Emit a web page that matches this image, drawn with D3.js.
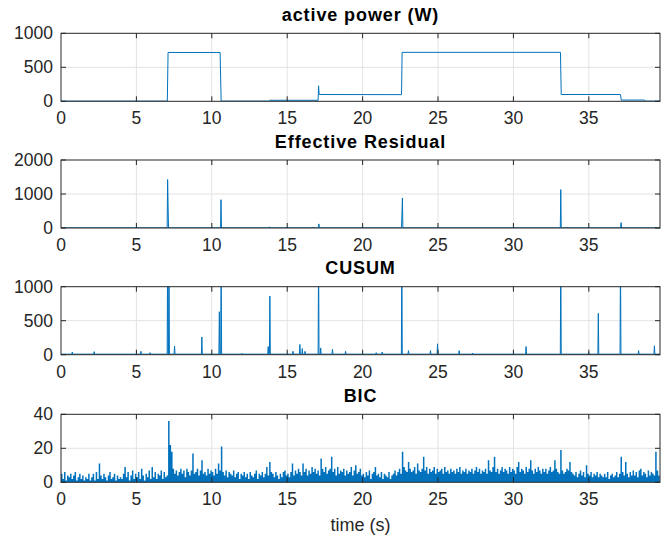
<!DOCTYPE html>
<html lang="en">
<head>
    <meta charset="UTF-8">
    <title>Power / Residual / CUSUM / BIC</title>
    <script src="https://d3js.org/d3.v7.min.js"></script>
    <style>
        body { margin: 0; background: #fff; }
        text { font-family: "Liberation Sans", Arial, sans-serif; fill: #262626; }
        .tick-label { font-size: 17.5px; }
        .axis-label { font-size: 18px; }
        .title { font-size: 18px; font-weight: bold; fill: #000; letter-spacing: 0.9px; }
        .grid line { stroke: #e3e3e3; stroke-width: 1; }
        .box { fill: none; stroke: #262626; stroke-width: 1; }
        .tickmark { stroke: #262626; stroke-width: 1; }
        .line { fill: none; stroke: #0072BD; stroke-width: 1; }
        .area { fill: #0072BD; stroke: none; }
    </style>
</head>
<body>
    <div id="chart"></div>

    <script>
        // x axis (seconds)
        const xMax = 39.72;
        const xTicks = [0, 5, 10, 15, 20, 25, 30, 35];

        // active power: breakpoints of the step signal
        const powerTime  = [0, 7.05, 7.10, 10.55, 10.62, 13.80, 13.85, 17.05, 17.08, 17.12, 22.58, 22.62, 33.12, 33.17, 37.10, 37.15, 38.70, 38.75, 39.72];
        const powerValue = [3, 3,    718,  718,   3,     3,     15,    15,    228,   100,   98,    720,   720,   100,   100,   18,    18,    3,     3];

        // effective residual
        const resTime  = [0, 7.04, 7.07, 7.10, 7.13, 10.58, 10.61, 10.64, 13.81, 13.83, 13.85, 17.07, 17.10, 17.13, 22.58, 22.61, 22.64, 22.67, 33.11, 33.14, 33.17, 37.11, 37.14, 37.17, 39.72];
        const resValue = [6, 6,    1425, 700,  6,    6,     832,   6,     6,     35,    6,     6,     120,   6,     6,     440,   881,   6,     6,     1130,  6,     6,     158,   6,     6];

        // CUSUM spikes (values above 1000 are clipped by the axes)
        const cusumBase  = 8;
        const cusumTime  = [0.75, 2.2, 5.3, 5.9, 7.07, 7.16, 7.53, 9.34, 10.50, 10.62, 12.0, 13.74, 13.85, 15.38, 15.84, 16.0, 16.18, 17.08, 17.22, 18.0, 18.87, 20.9, 21.3, 22.6, 23.04, 24.5, 24.97, 26.4, 27.3, 30.84, 33.14, 35.0, 35.63, 37.1, 38.3, 39.35];
        const cusumValue = [40,   45,  50,  30,  1500, 1500, 127,  260,  632,   1500,  20,   120,   862,   50,    150,   90,   50,    1500,  100,   80,   50,    30,   40,   1500, 60,    60,   160,   60,   25,   120,   1500,  30,   608,   1500, 60,   130];

        // BIC, one value every 0.1 s
        const bicStep = 0.1;
        const bicValue = [
            5,2,6,1,4,3,5,2,4,6,1,3,5,2,4,1,3,2,5,1,
            3,5,1,6,2,11,4,2,5,3,1,4,6,2,3,5,1,4,2,3,
            2,5,9,3,6,1,4,7,2,5,3,6,2,8,4,1,5,3,7,2,
            9,3,6,2,5,4,7,2,6,3,4,36,22,18,8,5,7,4,6,8,
            5,7,3,8,6,4,7,17,5,6,8,4,7,13,5,6,4,8,5,7,
            6,4,8,5,11,7,21,6,4,7,3,6,5,4,7,3,5,6,2,5,
            4,6,3,5,2,6,4,3,5,7,2,5,4,6,3,5,9,4,12,6,
            5,3,6,4,2,5,3,6,7,4,5,3,6,11,4,7,5,8,6,4,
            11,6,8,4,7,5,9,6,8,5,7,4,14,8,6,9,5,7,8,15,
            6,8,4,9,5,7,6,8,4,7,5,6,9,4,7,10,5,6,8,4,
            5,3,6,4,7,2,5,6,9,4,5,3,6,2,5,4,3,6,2,4,
            5,7,4,6,8,5,18,9,7,6,12,8,6,7,9,5,11,7,6,8,
            15,7,9,5,8,6,7,9,5,8,6,7,8,5,9,6,7,5,8,6,
            7,5,8,6,9,5,7,6,8,5,7,6,8,5,7,9,6,8,5,7,
            6,8,5,13,7,6,9,15,6,8,5,7,9,6,8,7,5,9,6,8,
            7,5,9,12,6,8,7,5,9,6,8,13,7,5,8,6,9,7,5,8,
            6,8,5,7,9,6,7,13,8,6,5,19,7,5,6,8,7,12,6,5,
            4,6,3,5,7,4,6,3,10,5,4,6,3,5,4,6,3,5,4,3,
            5,3,6,2,4,5,3,4,6,3,5,15,6,4,12,5,3,6,4,7,
            4,6,3,7,8,4,6,5,3,7,4,6,5,4,18,7,4,6
        ];

        const titles = ["active power (W)", "Effective Residual", "CUSUM", "BIC"];
        const yDomains = [[0, 1000], [0, 2000], [0, 1000], [0, 40]];
        const yTickSets = [[0, 500, 1000], [0, 1000, 2000], [0, 500, 1000], [0, 20, 40]];

        // layout
        const width = 671, height = 538;
        const left = 61, right = 660;
        const tops = [33.3, 160, 286.7, 414.3];
        const panelH = 68;
        const tickLen = 5;

        const svg = d3.select("#chart")
            .append("svg")
            .attr("width", width)
            .attr("height", height);

        const x = d3.scaleLinear().domain([0, xMax]).range([left, right]);

        // build the line points for each panel
        const powerData = powerTime.map((t, i) => [t, powerValue[i]]);
        const resData = resTime.map((t, i) => [t, resValue[i]]);
        const cusumData = [[0, cusumBase]];
        cusumTime.forEach((t, i) => {
            cusumData.push([t - 0.03, cusumBase], [t, cusumValue[i]], [t + 0.03, cusumBase]);
        });
        cusumData.push([xMax, cusumBase]);
        const bicData = bicValue.map((v, i) => [i * bicStep, v]);

        tops.forEach((top, k) => {
            const y = d3.scaleLinear().domain(yDomains[k]).range([top + panelH, top]);
            const g = svg.append("g");

            // clip so clipped spikes stop at the box
            g.append("clipPath").attr("id", "clip" + k)
                .append("rect")
                .attr("x", left).attr("y", top)
                .attr("width", right - left).attr("height", panelH);

            // grid
            const grid = g.append("g").attr("class", "grid");
            grid.selectAll(".gx").data(xTicks.slice(1)).enter().append("line")
                .attr("x1", d => x(d)).attr("x2", d => x(d))
                .attr("y1", top).attr("y2", top + panelH);
            grid.selectAll(".gy").data(yTickSets[k].slice(1, -1)).enter().append("line")
                .attr("x1", left).attr("x2", right)
                .attr("y1", d => y(d)).attr("y2", d => y(d));

            // data
            const plot = g.append("g").attr("clip-path", `url(#clip${k})`);
            if (k === 3) {
                const area = d3.area()
                    .curve(d3.curveStepAfter)
                    .x(d => x(d[0]))
                    .y0(y(0))
                    .y1(d => y(d[1]));
                plot.append("path").datum(bicData).attr("class", "area").attr("d", area);
            } else {
                const data = [powerData, resData, cusumData][k];
                const line = d3.line().x(d => x(d[0])).y(d => y(d[1]));
                plot.append("path").datum(data).attr("class", "line")
                    .attr("stroke-width", k === 0 ? 1.2 : 1.6)
                    .attr("d", line);
            }

            // ticks pointing inward on all four sides
            const tk = g.append("g").attr("class", "tickmark");
            xTicks.slice(1).forEach(t => {
                tk.append("line").attr("x1", x(t)).attr("x2", x(t))
                    .attr("y1", top + panelH).attr("y2", top + panelH - tickLen);
                tk.append("line").attr("x1", x(t)).attr("x2", x(t))
                    .attr("y1", top).attr("y2", top + tickLen);
            });
            yTickSets[k].forEach(t => {
                tk.append("line").attr("x1", left).attr("x2", left + tickLen)
                    .attr("y1", y(t)).attr("y2", y(t));
                tk.append("line").attr("x1", right).attr("x2", right - tickLen)
                    .attr("y1", y(t)).attr("y2", y(t));
            });

            // box
            g.append("rect").attr("class", "box")
                .attr("x", left).attr("y", top)
                .attr("width", right - left).attr("height", panelH);

            // tick labels
            g.selectAll(".xl").data(xTicks).enter().append("text")
                .attr("class", "tick-label")
                .attr("x", d => x(d))
                .attr("y", top + panelH + 23)
                .attr("text-anchor", "middle")
                .text(d => d);
            g.selectAll(".yl").data(yTickSets[k]).enter().append("text")
                .attr("class", "tick-label")
                .attr("x", left - 8)
                .attr("y", d => y(d) + 6)
                .attr("text-anchor", "end")
                .text(d => d);

            // title
            g.append("text")
                .attr("class", "title")
                .attr("x", (left + right) / 2)
                .attr("y", top - 12.5)
                .attr("text-anchor", "middle")
                .text(titles[k]);
        });

        // x label
        svg.append("text")
            .attr("class", "axis-label")
            .attr("x", (left + right) / 2)
            .attr("y", 531)
            .attr("text-anchor", "middle")
            .text("time (s)");
    </script>
</body>
</html>
